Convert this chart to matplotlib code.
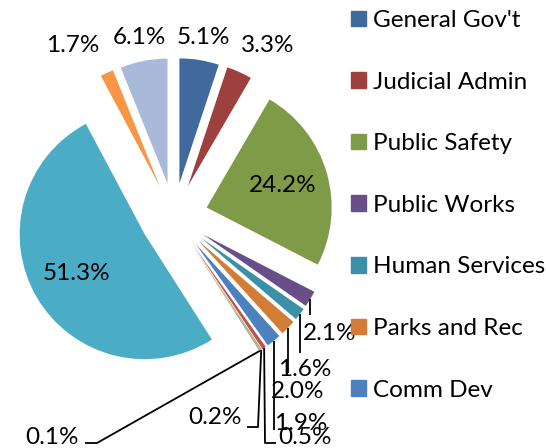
import matplotlib.pyplot as plt
from matplotlib.patches import Patch
import numpy as np

# legend only shows the first seven categories (the rest were cut off in the source)
categories = ["General Gov't", "Judicial Admin", "Public Safety", "Public Works",
              "Human Services", "Parks and Rec", "Comm Dev"]
shares = [5.1, 3.3, 24.2, 2.1, 1.6, 2.0, 1.9, 0.5, 0.2, 0.1, 51.3, 1.7, 6.1]
colors = ["#406a9d", "#9d403e", "#7f9b48", "#684f89", "#3b8fa6", "#d37c35",
          "#4d80bf", "#c0504d", "#9bbb59", "#8064a2", "#4bacc6", "#f79646",
          "#a9b9d9"]

W, H = 546, 448
CX, CY, R = 174, 217, 125   # pie centre and radius in image pixels


def px(x, y):
    return ((x - CX) / R, (CY - y) / R)


# label layout: image-pixel position of each outside label, plus leader elbows
label_pos = {0: (203, 38), 1: (268, 46), 3: (330, 333), 4: (305, 370),
             5: (298, 391), 6: (301, 423), 7: (305, 437), 8: (215, 417),
             9: (52, 437), 11: (73, 46), 12: (139, 38)}
leaders = {3: [(None, 315)], 4: [(None, 353)], 5: [(None, 373)],
           6: [(None, 430)], 7: [(265, 443), (276, 443)],
           8: [(258, 427), (247, 427)], 9: [(97, 443), (85, 443)]}
inside = [2, 10]

plt.rcParams['font.family'] = ['Lato', 'DejaVu Sans']
fig = plt.figure(figsize=(W / 100, H / 100), dpi=100)
ax = fig.add_axes([0, 0, 1, 1])

wedges, _ = ax.pie(shares, colors=colors, startangle=90, counterclock=False,
                   explode=[34 / R] * len(shares), radius=1,
                   wedgeprops=dict(linewidth=0))

ax.set_xlim(-CX / R, (W - CX) / R)
ax.set_ylim(-(H - CY) / R, CY / R)
ax.set_aspect('equal')
ax.axis('off')

fs = 17.5
for i, w in enumerate(wedges):
    txt = f"{shares[i]:.1f}%"
    th = np.deg2rad((w.theta1 + w.theta2) / 2)
    cx, cy = w.center
    if i in inside:
        ax.text(cx + 0.63 * np.cos(th), cy + 0.63 * np.sin(th), txt,
                fontsize=fs, ha='center', va='center')
        continue
    ax.text(*px(*label_pos[i]), txt, fontsize=fs, ha='center', va='center')
    if i in leaders:
        sx, sy = cx + np.cos(th), cy + np.sin(th)
        xs, ys = [sx], [sy]
        for ex, ey in leaders[i]:
            dx, dy = px(ex if ex is not None else 0, ey)
            xs.append(sx if ex is None else dx)
            ys.append(dy)
        ax.plot(xs, ys, color='black', lw=1.3, solid_capstyle='butt')

handles = [Patch(color=colors[i], label=categories[i]) for i in range(len(categories))]
fig.legend(handles=handles, loc='upper left', bbox_to_anchor=(351 / W, 1 - 10 / H),
           frameon=False, fontsize=fs, handlelength=0.62, handleheight=0.62,
           handletextpad=0.3, labelspacing=1.67, borderpad=0, borderaxespad=0)

fig.savefig('out.png', dpi=100)
